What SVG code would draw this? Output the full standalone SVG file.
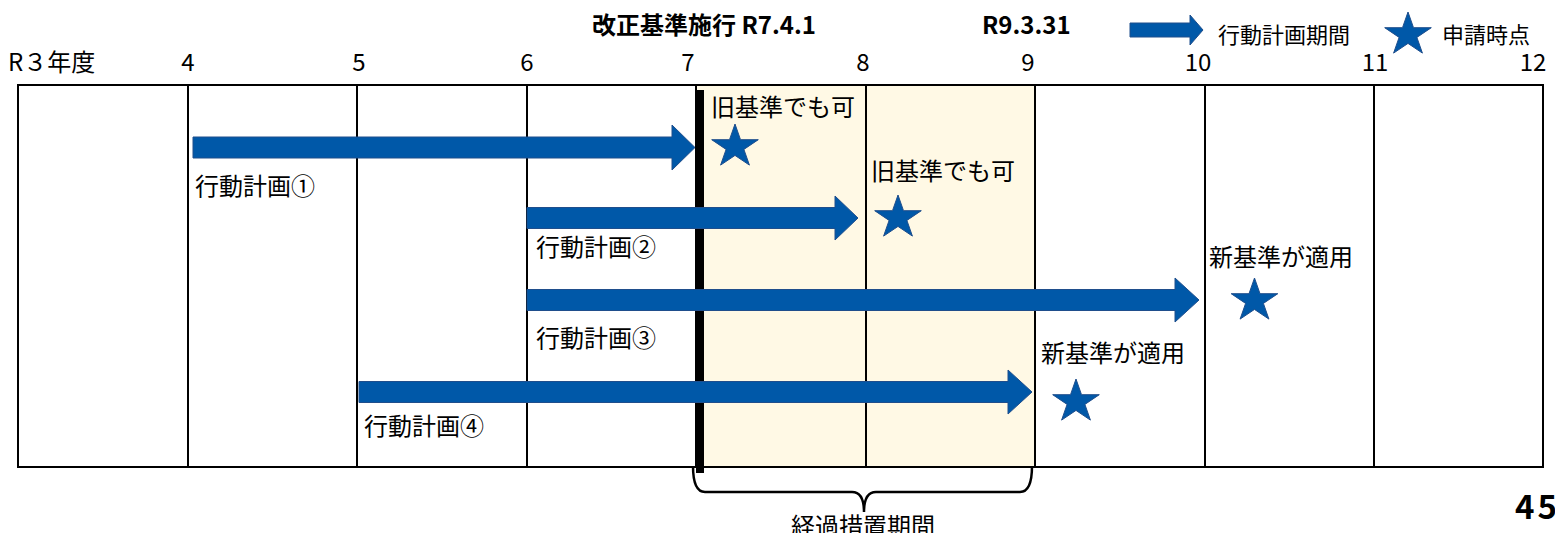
<svg xmlns="http://www.w3.org/2000/svg" xmlns:xlink="http://www.w3.org/1999/xlink" width="1555" height="533" viewBox="0 0 1555 533">
<style>
text{font-family:"Noto Sans CJK JP","Noto Sans",sans-serif;fill:#000}
.lbl{font-size:24px}
.yr{font-size:24px;text-anchor:middle}
.bold{font-size:24px;font-weight:bold}
.leg{font-size:22px}
.grid{stroke:#000;stroke-width:2;fill:none}
.arrow{fill:#0058A8;stroke:#1F4E8C;stroke-width:1}
.star{fill:#0058A8;stroke:#1F4E8C;stroke-width:1}
</style>
<defs>
<polygon id="star5" points="0,-22.7 5.5,-7 23.3,-7 8.9,2.7 14.4,18.4 0,8.7 -14.4,18.4 -8.9,2.7 -23.3,-7 -5.5,-7"/>
</defs>
<rect width="1555" height="533" fill="#fff"/>
<g id="table">
<rect x="696" y="85" width="339" height="382" fill="#FFF9E5"/>
<rect class="grid" x="18" y="85" width="1525" height="382"/>
<line class="grid" x1="188" y1="85" x2="188" y2="467"/>
<line class="grid" x1="357" y1="85" x2="357" y2="467"/>
<line class="grid" x1="527" y1="85" x2="527" y2="467"/>
<line class="grid" x1="696" y1="85" x2="696" y2="467"/>
<line class="grid" x1="866" y1="85" x2="866" y2="467"/>
<line class="grid" x1="1035" y1="85" x2="1035" y2="467"/>
<line class="grid" x1="1205" y1="85" x2="1205" y2="467"/>
<line class="grid" x1="1374" y1="85" x2="1374" y2="467"/>
</g>
<g id="years">
<text x="8" y="71" style="font-size:24px">R３年度</text>
<text class="yr" x="188" y="71">4</text>
<text class="yr" x="359" y="71">5</text>
<text class="yr" x="527" y="71">6</text>
<text class="yr" x="688" y="71">7</text>
<text class="yr" x="863" y="71">8</text>
<text class="yr" x="1028" y="71">9</text>
<text class="yr" x="1198" y="71">10</text>
<text class="yr" x="1375" y="71">11</text>
<text class="yr" x="1533" y="71">12</text>
</g>
<g id="title">
<text class="bold" x="592" y="34">改正基準施行 R7.4.1</text>
<text class="bold" x="982" y="34">R9.3.31</text>
</g>
<g id="legend">
<path class="arrow" d="M1130,23 L1190,23 L1190,15 L1203,30 L1190,45 L1190,37 L1130,37 Z"/>
<text class="leg" x="1218" y="43">行動計画期間</text>
<use class="star" xlink:href="#star5" transform="translate(1408,34.7)"/>
<text class="leg" x="1442" y="43">申請時点</text>
</g>
<g id="enforcement-line">
<rect x="696" y="90" width="8" height="383" fill="#000"/>
</g>
<g id="connectors">
<path id="arrow1" class="arrow" d="M193,137 L672,137 L672,125 L695,147.5 L672,170 L672,158 L193,158 Z"/>
<path id="arrow2" class="arrow" d="M527,207.5 L835,207.5 L835,196 L858,218 L835,240 L835,228.5 L527,228.5 Z"/>
<path id="arrow3" class="arrow" d="M527,289.5 L1175,289.5 L1175,278 L1199,300 L1175,322 L1175,310.5 L527,310.5 Z"/>
<path id="arrow4" class="arrow" d="M359,381.5 L1008,381.5 L1008,370 L1032,392 L1008,414 L1008,402.5 L359,402.5 Z"/>
<path id="brace" d="M693,466 Q693,492 705,492 L852,492 Q864,492 864,512 Q864,492 876,492 L1020,492 Q1032,492 1032,466" fill="none" stroke="#000" stroke-width="2.5"/>
</g>
<g id="plan1">
<text class="lbl" x="195" y="195">行動計画①</text>
<use class="star" xlink:href="#star5" transform="translate(735,146.7)"/>
<text class="lbl" x="711" y="116">旧基準でも可</text>
</g>
<g id="plan2">
<text class="lbl" x="536" y="256">行動計画②</text>
<use class="star" xlink:href="#star5" transform="translate(898,217.7)"/>
<text class="lbl" x="871" y="180">旧基準でも可</text>
</g>
<g id="plan3">
<text class="lbl" x="536" y="347">行動計画③</text>
<use class="star" xlink:href="#star5" transform="translate(1254.5,300.7)"/>
<text class="lbl" x="1209" y="266">新基準が適用</text>
</g>
<g id="plan4">
<text class="lbl" x="364" y="435">行動計画④</text>
<use class="star" xlink:href="#star5" transform="translate(1076,401.7)"/>
<text class="lbl" x="1041" y="362">新基準が適用</text>
</g>
<g id="transition">
<text class="lbl" x="791" y="535">経過措置期間</text>
</g>
<g id="page">
<text x="1515" y="519" style="font-size:33px;font-weight:bold;letter-spacing:3px">45</text>
</g>
</svg>
